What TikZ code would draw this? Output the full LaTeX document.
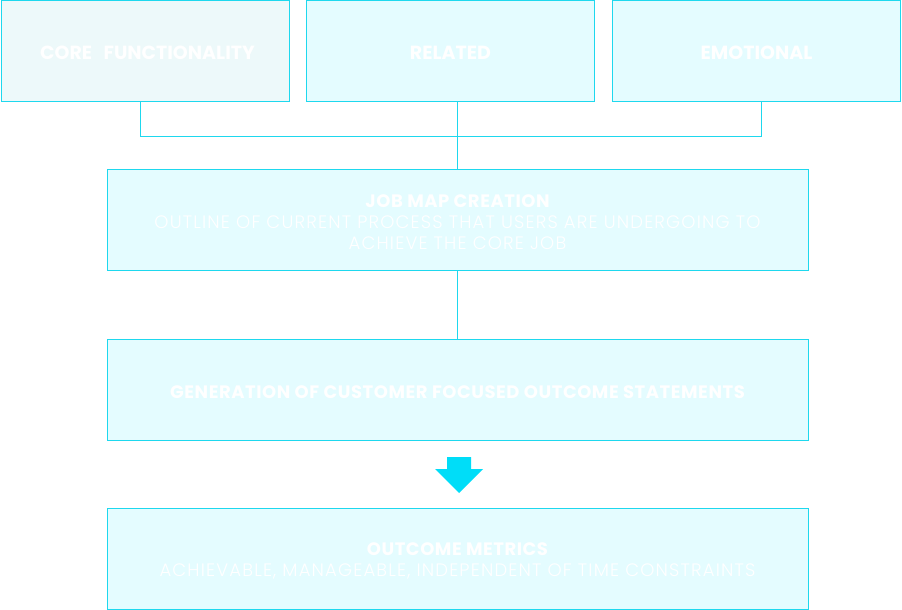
\documentclass[tikz,border=0pt]{standalone}
\usepackage{fontspec}
\setmainfont{Poppins}[UprightFont=* Light, BoldFont=* Bold,
  UprightFeatures={LetterSpace=6.5}, BoldFeatures={LetterSpace=3}]
\newfontfamily\headfont{Poppins}
% sets text a little lower without changing the box it occupies
\newcommand\lowertext[2]{\raisebox{-#1}[\height][\depth]{#2}}
\newcommand\stacktext[1]{\lowertext{2.5pt}{\parbox{690pt}{\centering #1}}}
\begin{document}
\begin{tikzpicture}[x=1pt,y=-1pt,
  edge/.style={draw=lineblue,line width=1pt},
  topbox/.style={draw=lineblue,line width=1pt,fill=boxfill,minimum width=288pt,minimum height=100pt,
    inner sep=0pt,text=white,font=\headfont\bfseries\fontsize{19}{22}\selectfont},
  widebox/.style={draw=lineblue,line width=1pt,fill=boxfill,minimum width=701pt,minimum height=101pt,
    inner sep=0pt,text=white,font=\fontsize{18}{21}\selectfont},
]
\definecolor{lineblue}{HTML}{1ED8EE}
\definecolor{boxfill}{HTML}{E4FCFF}
\definecolor{paleboxfill}{HTML}{EDF9FA}
\definecolor{arrowblue}{HTML}{00DDF8}
\useasboundingbox (0,0) rectangle (902,610);
\fill[white] (0,0) rectangle (902,610);

% three job categories
\node[topbox,fill=paleboxfill] (core) at (145,51) {\lowertext{1.5pt}{\hspace*{5pt}CORE\hspace{0.6em}FUNCTIONALITY}};
\node[topbox] (rel) at (450.5,51) {\lowertext{1.5pt}{RELATED}};
\node[topbox] (emo) at (756.5,51) {\lowertext{1.5pt}{EMOTIONAL}};

% process steps
\node[widebox] (jobmap) at (457.5,219.5) {\stacktext{{\bfseries JOB MAP CREATION}\\
  OUTLINE OF CURRENT PROCESS THAT USERS ARE UNDERGOING TO\\ACHIEVE THE CORE JOB}};
\node[widebox] (gen) at (457.5,389.5) {\stacktext{\bfseries GENERATION OF CUSTOMER FOCUSED OUTCOME STATEMENTS}};
\node[widebox] (metrics) at (457.5,558.5) {\stacktext{{\bfseries OUTCOME METRICS}\\ACHIEVABLE, MANAGEABLE, INDEPENDENT OF TIME CONSTRAINTS}};

% connectors: the side lines sit slightly off the box centres
\draw[edge] ([xshift=-5pt]core.south) -- ++(0,35) -| ([xshift=5pt]emo.south);
\draw[edge] (jobmap.north) -- (jobmap.north |- rel.south);
\draw[edge] (jobmap.south) -- (gen.north);

% block arrow
\coordinate (ar) at (459,457);
\fill[arrowblue] (ar) ++(-12,0) -- ++(24,0) -- ++(0,12) -- ++(12,0) -- ++(-24,24) -- ++(-24,-24) -- ++(12,0) -- cycle;
\end{tikzpicture}
\end{document}
